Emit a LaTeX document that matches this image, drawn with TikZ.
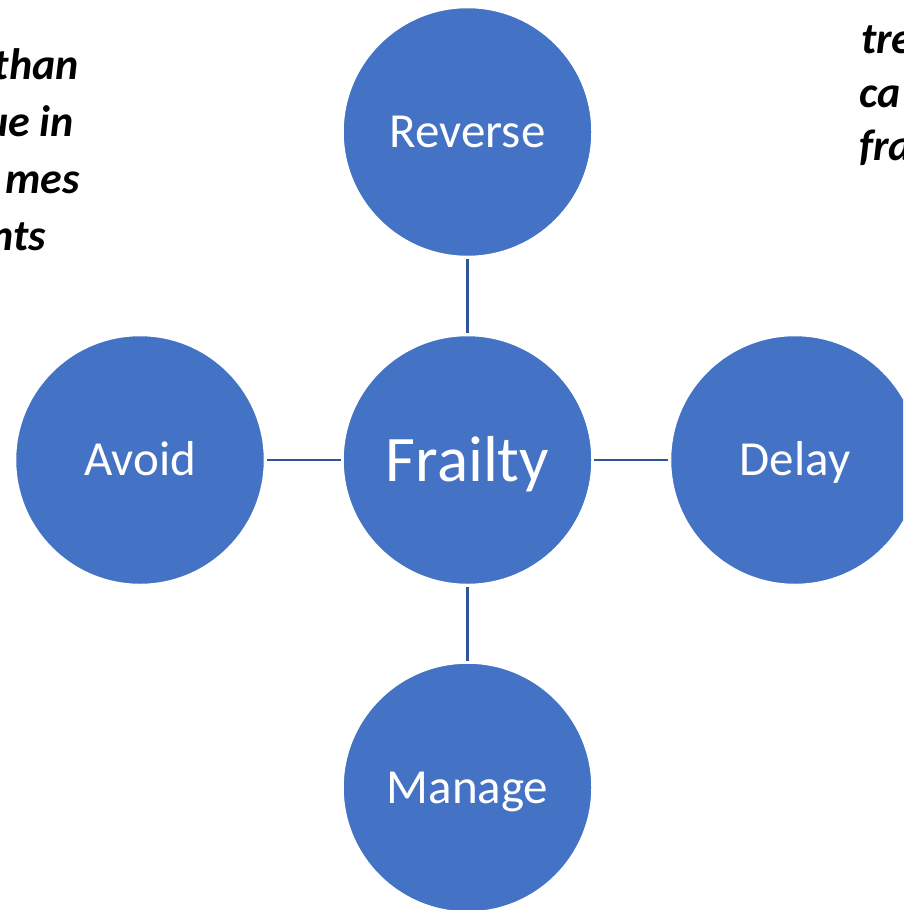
\documentclass[tikz,border=0pt]{standalone}
\usepackage{fontspec}
\setmainfont{Carlito}
\definecolor{circblue}{HTML}{4472C4}
\definecolor{linkblue}{HTML}{2F5597}
\tikzset{
  circ/.style={circle, fill=circblue, draw=white, line width=1.5pt, minimum size=249pt, inner sep=0pt, text=white, text depth=0pt},
  small/.style={circ, font=\fontsize{49}{58}\selectfont, text height=31.5pt},
  big/.style={circ, font=\fontsize{65}{78}\selectfont, text height=42pt},
  link/.style={draw=linkblue, line width=2.4pt, shorten >=1.5pt, shorten <=1.5pt},
  frag/.style={font=\fontsize{44}{52}\selectfont\bfseries\itshape, text=black, inner sep=0pt}
}
\begin{document}
\begin{tikzpicture}[x=1pt,y=-1pt]
\useasboundingbox (0,0) rectangle (903,910);
\clip (0,0) rectangle (903,910);
\node[big] (fr) at (467.5,460) {Frailty};
\node[small] (rev) at (467.5,132) {Reverse};
\node[small] (av) at (140,460) {Avoid};
\node[small] (de) at (795,460) {Delay};
\node[small] (ma) at (467.5,787.5) {Manage};
\draw[link] (rev) -- (fr);
\draw[link] (fr) -- (ma);
\draw[link] (av) -- (fr);
\draw[link] (fr) -- (de);
\node[frag, anchor=base east] (l1) at (79,79) {than};
\node[frag, anchor=base east] (l2) at (74,136) {ue in};
\node[frag, anchor=base east] (l3) at (80,193) {mes};
\node[frag, anchor=base east] (l4) at (46,250) {nts};
\node[frag, anchor=base west] (r1) at (861,53) {tre};
\node[frag, anchor=base west] (r2) at (859,107) {ca};
\node[frag, anchor=base west] (r3) at (859,160) {fra};
\end{tikzpicture}
\end{document}
